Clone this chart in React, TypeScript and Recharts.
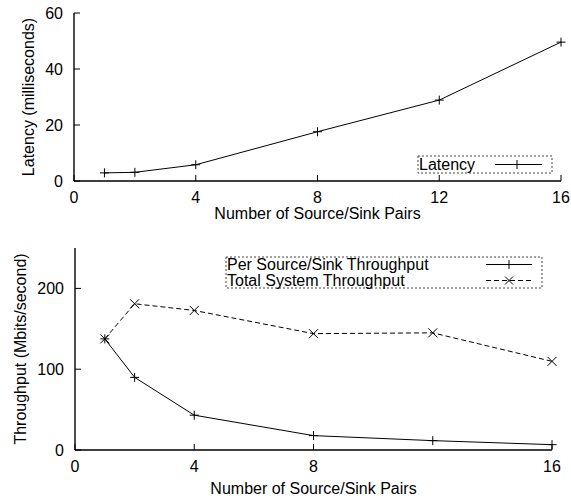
import React from 'react';
import { LineChart, Line, XAxis, YAxis, Label } from 'recharts';

const pairCounts = [1, 2, 4, 8, 12, 16];
const latencyMs = [2.9, 3.1, 5.8, 17.6, 28.9, 49.6];
const perPairThroughput = [137.5, 89.9, 43.1, 17.8, 11.6, 6.6];
const totalThroughput = [137.5, 181, 172.7, 144, 145, 109.7];

const topXTicks = [0, 4, 8, 12, 16];
const bottomXTicks = [0, 4, 8, 16];
const latencyTicks = [0, 20, 40, 60];
const throughputTicks = [0, 100, 200];

const xTitle = 'Number of Source/Sink Pairs';
const latencyTitle = 'Latency (milliseconds)';
const throughputTitle = 'Throughput (Mbits/second)';
const latencyName = 'Latency';
const perPairName = 'Per Source/Sink Throughput';
const totalName = 'Total System Throughput';

const latencyData = pairCounts.map((x, i) => ({ x, latency: latencyMs[i] }));
const throughputData = pairCounts.map((x, i) => ({
  x,
  per: perPairThroughput[i],
  total: totalThroughput[i],
}));

const FONT = '"Liberation Sans", Arial, Helvetica, sans-serif';
const tickStyle = { fill: '#000', fontSize: 16, fontFamily: FONT };
const axisLine = { stroke: '#000', strokeWidth: 1.4 };
const tickLine = { stroke: '#000', strokeWidth: 1 };

const plusPath = (cx: number, cy: number, r = 4.5) =>
  `M${cx - r},${cy}H${cx + r}M${cx},${cy - r}V${cy + r}`;
const crossPath = (cx: number, cy: number, r = 4.5) =>
  `M${cx - r},${cy - r}L${cx + r},${cy + r}M${cx + r},${cy - r}L${cx - r},${cy + r}`;

const PlusDot = (props: any) => {
  const { cx, cy, index } = props;
  if (cx == null || cy == null) return <g key={index} />;
  return <path key={index} d={plusPath(cx, cy)} stroke="#000" strokeWidth={1} fill="none" />;
};
const CrossDot = (props: any) => {
  const { cx, cy, index } = props;
  if (cx == null || cy == null) return <g key={index} />;
  return <path key={index} d={crossPath(cx, cy)} stroke="#000" strokeWidth={1} fill="none" />;
};

const Overlay = () => (
  <svg
    width={571}
    height={499}
    style={{ position: 'absolute', left: 0, top: 0, pointerEvents: 'none' }}
  >
    {/* top legend */}
    <rect x={418} y={156} width={134} height={17} fill="#fff" stroke="#444" strokeDasharray="2 2" strokeWidth={1} />
    <text x={419} y={170} fontSize={16} fontFamily={FONT} fill="#000">{latencyName}</text>
    <line x1={495} y1={164.5} x2={542} y2={164.5} stroke="#000" strokeWidth={1} />
    <path d={plusPath(517, 164.5)} stroke="#000" fill="none" />
    {/* bottom legend */}
    <rect x={226} y={257} width={316} height={31} fill="#fff" stroke="#444" strokeDasharray="2 2" strokeWidth={1} />
    <text x={227} y={270} fontSize={16} fontFamily={FONT} fill="#000">{perPairName}</text>
    <text x={227} y={286} fontSize={16} fontFamily={FONT} fill="#000">{totalName}</text>
    <line x1={486} y1={264.5} x2={532} y2={264.5} stroke="#000" strokeWidth={1} />
    <path d={plusPath(509, 264.5)} stroke="#000" fill="none" />
    <line x1={486} y1={280.5} x2={532} y2={280.5} stroke="#000" strokeWidth={1} strokeDasharray="5 3" />
    <path d={crossPath(509, 280.5, 4)} stroke="#000" fill="none" />
  </svg>
);

export default function App() {
  return (
    <div style={{ position: 'absolute', left: 0, top: 0, width: 571, height: 499, background: '#fff', fontFamily: FONT }}>
      <div style={{ position: 'absolute', left: 0, top: 0 }}>
        <LineChart width={571} height={230} data={latencyData} margin={{ top: 13, right: 10, bottom: 9, left: 0 }}>
          <XAxis
            xAxisId="b"
            dataKey="x"
            type="number"
            domain={[0, 16]}
            ticks={topXTicks}
            height={40}
            tickSize={-6}
            tickMargin={17}
            tick={tickStyle}
            axisLine={axisLine}
            tickLine={tickLine}
            interval={0}
          >
            <Label value={xTitle} position="insideTop" offset={27} style={{ fill: '#000', fontSize: 16, fontFamily: FONT }} />
          </XAxis>
          <XAxis
            xAxisId="t"
            orientation="top"
            dataKey="x"
            type="number"
            domain={[0, 16]}
            ticks={topXTicks}
            height={0}
            tickSize={-6}
            tick={false}
            axisLine={axisLine}
            tickLine={tickLine}
            interval={0}
          />
          <YAxis
            yAxisId="l"
            type="number"
            domain={[0, 60]}
            ticks={latencyTicks}
            width={74}
            tickSize={-6}
            tickMargin={17}
            tick={tickStyle}
            axisLine={axisLine}
            tickLine={tickLine}
            interval={0}
          >
            <Label
              value={latencyTitle}
              angle={-90}
              position="insideLeft"
              offset={28}
              style={{ fill: '#000', fontSize: 16, fontFamily: FONT, textAnchor: 'middle' }}
            />
          </YAxis>
          <YAxis
            yAxisId="r"
            orientation="right"
            type="number"
            domain={[0, 60]}
            ticks={latencyTicks}
            width={0}
            tickSize={-6}
            tick={false}
            axisLine={axisLine}
            tickLine={tickLine}
            interval={0}
          />
          <Line
            xAxisId="b"
            yAxisId="l"
            dataKey="latency"
            stroke="#000"
            strokeWidth={1}
            dot={PlusDot}
            activeDot={false}
            isAnimationActive={false}
          />
        </LineChart>
      </div>
      <div style={{ position: 'absolute', left: 0, top: 230 }}>
        <LineChart width={571} height={269} data={throughputData} margin={{ top: 18, right: 19, bottom: 0, left: 0 }}>
          <XAxis
            xAxisId="b"
            dataKey="x"
            type="number"
            domain={[0, 16]}
            ticks={bottomXTicks}
            height={49}
            tickSize={-6}
            tickMargin={17}
            tick={tickStyle}
            axisLine={axisLine}
            tickLine={tickLine}
            interval={0}
          >
            <Label value={xTitle} position="insideTop" offset={33} style={{ fill: '#000', fontSize: 16, fontFamily: FONT }} />
          </XAxis>
          <XAxis
            xAxisId="t"
            orientation="top"
            dataKey="x"
            type="number"
            domain={[0, 16]}
            ticks={bottomXTicks}
            height={0}
            tickSize={-6}
            tick={false}
            axisLine={axisLine}
            tickLine={tickLine}
            interval={0}
          />
          <YAxis
            yAxisId="l"
            type="number"
            domain={[0, 250]}
            ticks={throughputTicks}
            width={75}
            tickSize={-6}
            tickMargin={17}
            tick={tickStyle}
            axisLine={axisLine}
            tickLine={tickLine}
            interval={0}
          >
            <Label
              value={throughputTitle}
              angle={-90}
              position="insideLeft"
              offset={20}
              style={{ fill: '#000', fontSize: 16, fontFamily: FONT, textAnchor: 'middle' }}
            />
          </YAxis>
          <YAxis
            yAxisId="r"
            orientation="right"
            type="number"
            domain={[0, 250]}
            ticks={throughputTicks}
            width={0}
            tickSize={-6}
            tick={false}
            axisLine={axisLine}
            tickLine={tickLine}
            interval={0}
          />
          <Line
            xAxisId="b"
            yAxisId="l"
            dataKey="per"
            stroke="#000"
            strokeWidth={1}
            dot={PlusDot}
            activeDot={false}
            isAnimationActive={false}
          />
          <Line
            xAxisId="b"
            yAxisId="l"
            dataKey="total"
            stroke="#000"
            strokeWidth={1}
            strokeDasharray="5 3"
            dot={CrossDot}
            activeDot={false}
            isAnimationActive={false}
          />
        </LineChart>
      </div>
      <Overlay />
    </div>
  );
}
